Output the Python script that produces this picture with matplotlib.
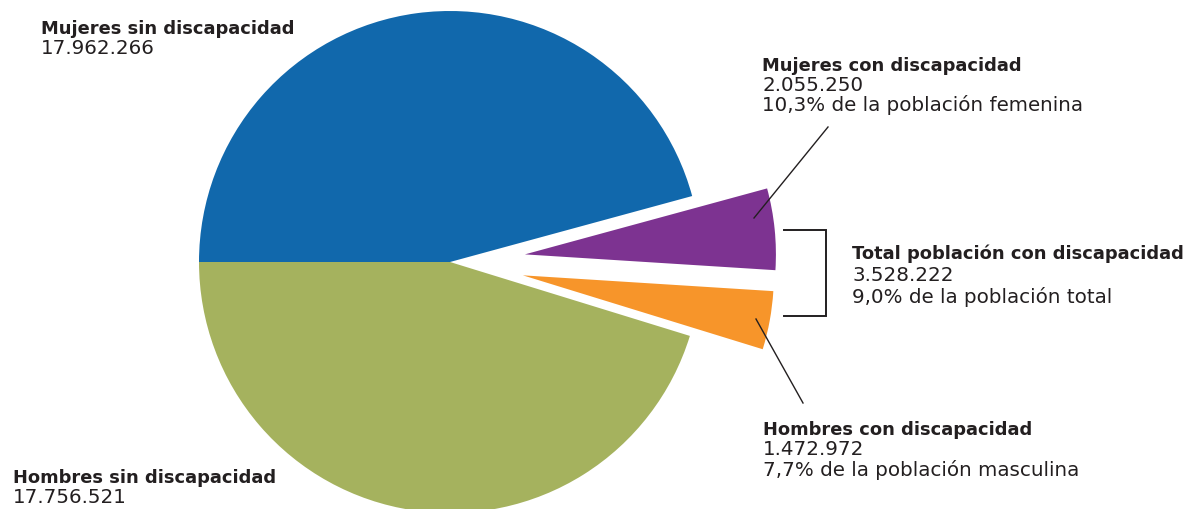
import matplotlib
matplotlib.use("Agg")
import matplotlib.pyplot as plt

# ---- data ----
categories = ["Mujeres sin discapacidad", "Mujeres con discapacidad",
              "Hombres con discapacidad", "Hombres sin discapacidad"]
values = [17962266, 2055250, 1472972, 17756521]
value_labels = ["17.962.266", "2.055.250", "1.472.972", "17.756.521"]
share_labels = [None, "10,3% de la población femenina",
                "7,7% de la población masculina", None]
total_label = "Total población con discapacidad"
total_value = "3.528.222"
total_share = "9,0% de la población total"

colors = ["#1168AC", "#7D3391", "#F7952A", "#A5B25E"]
text_color = "#231F20"

W, H = 1189, 510
fig = plt.figure(figsize=(W / 100, H / 100), dpi=100)
ax = fig.add_axes([0, 0, 1, 1])

cx, cy, R = 450, H - 263, 251
explode_frac = [0, 0.30, 0.295, 0]
explode = [e * R for e in explode_frac]
ax.pie(values, colors=colors, explode=explode, startangle=180,
       counterclock=False, center=(cx, cy), radius=R,
       wedgeprops=dict(linewidth=0), frame=True)
ax.set_xlim(0, W)
ax.set_ylim(0, H)
ax.set_aspect("equal")
ax.axis("off")

FONT = "DejaVu Sans"
FS_B = 12.85
FS_N = 14.3


def block(x, ybase, lines, spacing=20.3):
    for i, (txt, bold) in enumerate(lines):
        ax.text(x, H - (ybase + i * spacing), txt,
                fontsize=FS_B if bold else FS_N,
                fontfamily=FONT, fontweight="bold" if bold else "normal",
                color=text_color, ha="left", va="baseline")


block(41, 33.7, [(categories[0], True), (value_labels[0], False)])
block(13, 483, [(categories[3], True), (value_labels[3], False)])
block(762, 70.7, [(categories[1], True), (value_labels[1], False),
                  (share_labels[1], False)])
block(763, 435, [(categories[2], True), (value_labels[2], False),
                 (share_labels[2], False)])
block(852, 259.3, [(total_label, True), (total_value, False),
                   (total_share, False)], spacing=21.7)

lc = "#231F20"
# leader lines
ax.plot([754, 828], [H - 219, H - 128], color=lc, lw=1.0)
ax.plot([756, 803], [H - 320, H - 404], color=lc, lw=1.0)
# bracket
ax.plot([784, 826, 826, 784], [H - 230.7, H - 230.7, H - 317, H - 317],
        color=lc, lw=1.4, solid_joinstyle="miter")

fig.savefig("out.png", dpi=100)
